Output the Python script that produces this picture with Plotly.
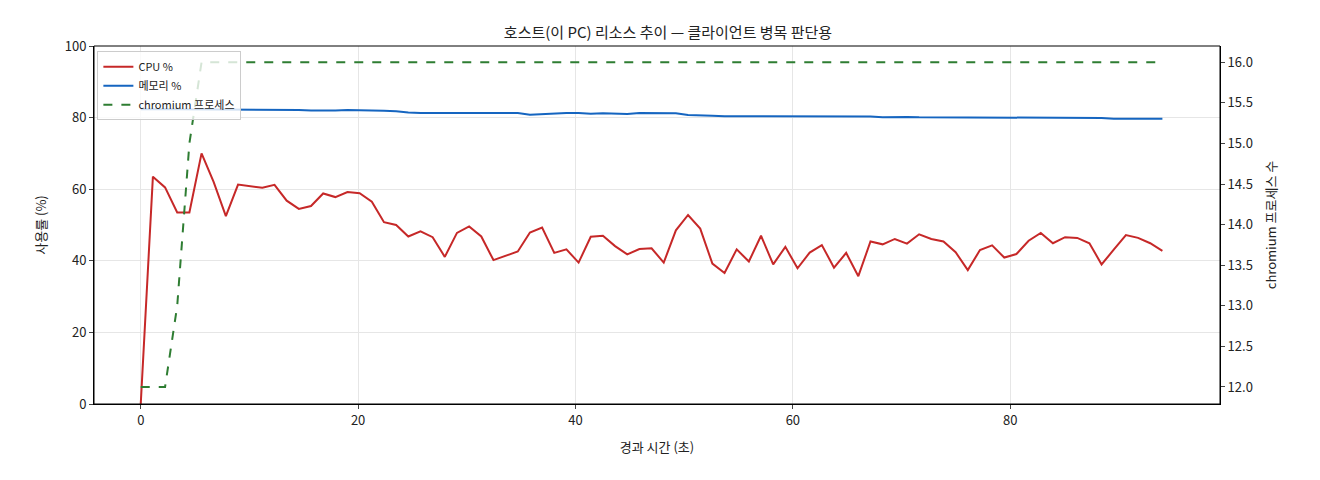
import plotly.graph_objects as go

cpu = [0,63.5,60.5,53.5,53.5,70,62,52.5,61.3,60.8,60.4,61.2,56.8,54.5,55.3,58.8,57.8,59.2,58.9,56.5,
       50.8,50,46.8,48.2,46.6,41.1,47.8,49.6,46.8,40.2,41.3,42.6,47.9,49.3,42.2,43.2,39.5,46.7,47,44.1,
       41.8,43.3,43.5,39.5,48.5,52.8,49,39.2,36.6,43.2,39.8,47,39,43.9,37.9,42.3,44.4,38.1,42.2,35.7,
       45.4,44.6,46.1,44.8,47.4,46.1,45.4,42.4,37.4,43,44.3,40.9,41.9,45.6,47.8,44.9,46.6,46.4,44.9,39,
       43.1,47.2,46.4,44.9,42.8]
mem = [82.3,82.4,82.4,82.3,82.3,82.3,82.3,82.2,82.2,82.1,82.2,82.2,82.1,82.1,82.0,81.9,82.0,82.1,82.1,82.0,
       81.9,81.8,81.4,81.3,81.3,81.3,81.4,81.4,81.3,81.3,81.3,81.3,80.8,81.0,81.3,81.3,81.3,81.1,81.2,81.1,
       81.0,81.3,81.3,81.2,81.2,80.7,80.5,80.5,80.4,80.4,80.3,80.3,80.2,80.2,80.2,80.2,80.2,80.2,80.2,80.2,
       80.3,80.1,80.2,80.2,80.1,80.1,80.1,80.0,79.9,80.1,80.0,79.9,80.0,80.0,80.0,79.9,80.0,80.0,80.0,79.9,
       79.7,79.7,79.7,79.7,79.7]
proc = [12,12,12,13,15,16] + [16]*(len(cpu)-6)
n = len(cpu)
t = [i*94/(n-1) for i in range(n)]

fig = go.Figure()
fig.add_trace(go.Scatter(x=t, y=cpu, name="CPU %", mode="lines", line=dict(color="#c62828", width=2)))
fig.add_trace(go.Scatter(x=t, y=mem, name="메모리 %", mode="lines", line=dict(color="#1565c0", width=2)))
fig.add_trace(go.Scatter(x=t, y=proc, name="chromium 프로세스", mode="lines", yaxis="y2",
                         line=dict(color="#2e7d32", width=2, dash="dash")))
ax = dict(showline=True, linecolor="black", mirror=False, ticks="outside", ticklen=4,
          tickfont=dict(size=13, color="#222"), zeroline=False)
fig.update_layout(
    width=1320, height=480, plot_bgcolor="white", paper_bgcolor="white",
    font=dict(family="Noto Sans CJK KR", color="#222"),
    margin=dict(l=86, r=108, t=38, b=84),
    title=dict(text="호스트(이 PC) 리소스 추이 — 클라이언트 병목 판단용", x=0.5, xanchor="center", y=0.96, font=dict(size=15)),
    xaxis=dict(**ax, range=[-4.3, 99.3], dtick=20, showgrid=True, gridcolor="#e6e6e6",
               title=dict(text="경과 시간 (초)", font=dict(size=13))),
    yaxis=dict(**ax, range=[0, 100], dtick=20, showgrid=True, gridcolor="#e6e6e6",
               title=dict(text="사용률 (%)", font=dict(size=13))),
    yaxis2=dict(**ax, overlaying="y", side="right", range=[11.79, 16.2], dtick=0.5, tickformat=".1f",
                showgrid=False, title=dict(text="chromium 프로세스 수", font=dict(size=13))),
    legend=dict(x=0.003, y=0.985, xanchor="left", yanchor="top", bgcolor="rgba(255,255,255,0.8)",
                bordercolor="#ccc", borderwidth=1, font=dict(size=11)),
    shapes=[dict(type="rect", xref="paper", yref="paper", x0=0, y0=0, x1=1, y1=1,
                 line=dict(color="black", width=1))],
)
fig.write_html("out.html")
